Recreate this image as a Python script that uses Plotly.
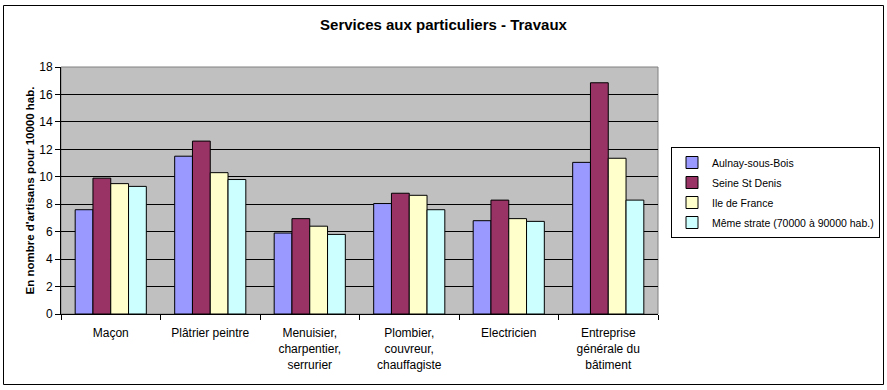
import plotly.graph_objects as go

categories = ["Maçon", "Plâtrier peintre", "Menuisier,<br>charpentier,<br>serrurier",
              "Plombier,<br>couvreur,<br>chauffagiste", "Electricien",
              "Entreprise<br>générale du<br>bâtiment"]
series_names = ["Aulnay-sous-Bois", "Seine St Denis", "Ile de France",
                "Même strate (70000 à 90000 hab.)"]
aulnay = [7.6, 11.5, 5.9, 8.05, 6.8, 11.05]
seine = [9.9, 12.6, 6.95, 8.8, 8.3, 16.85]
idf = [9.5, 10.3, 6.4, 8.65, 6.95, 11.35]
strate = [9.3, 9.8, 5.8, 7.6, 6.75, 8.3]
colors = ["#9999FF", "#993366", "#FFFFCC", "#CCFFFF"]
y_ticks = [0, 2, 4, 6, 8, 10, 12, 14, 16, 18]

W, H = 887, 390
L, R, T, B = 61, 229, 67, 76
pw, ph = W - L - R, H - T - B

def px(x):
    return (x - L) / pw

def py(y):
    return (H - B - y) / ph

font = "Liberation Sans, Arial, sans-serif"
fig = go.Figure()
for i, (name, vals) in enumerate(zip(series_names, [aulnay, seine, idf, strate])):
    fig.add_trace(go.Bar(
        x=categories, y=vals, name=name, legendgroup=f"g{i}",
        marker=dict(color=colors[i], line=dict(color="black", width=1)),
    ))

fig.update_layout(
    width=W, height=H,
    margin=dict(l=L, r=R, t=T, b=B, autoexpand=False),
    paper_bgcolor="white", plot_bgcolor="#C0C0C0",
    barmode="group", bargap=0.285, bargroupgap=0,
    font=dict(family=font, size=11, color="black"),
    title=dict(text="<b>Services aux particuliers - Travaux</b>", x=0.5, xanchor="center",
               xref="container", y=1 - 25 / H, yanchor="middle",
               font=dict(size=15, family=font)),
    legend=dict(x=px(671), y=py(147), xanchor="left", yanchor="top",
                bordercolor="black", borderwidth=1, bgcolor="white",
                tracegroupgap=1, font=dict(size=10.5, family=font),
                itemwidth=30),
    xaxis=dict(showline=True, linecolor="black", linewidth=1, automargin=False,
               ticks="outside", ticklen=5, tickcolor="black", tickson="boundaries",
               showgrid=False, tickfont=dict(size=12), ticklabelstandoff=8),
    yaxis=dict(range=[0, 18], tickvals=y_ticks, showline=True, linecolor="black",
               linewidth=1, ticks="outside", ticklen=5, tickcolor="black",
               gridcolor="black", gridwidth=1, zeroline=False, automargin=False,
               title=dict(text="<b>En nombre d'artisans pour 10000 hab.</b>",
                          font=dict(size=11.5), standoff=2),
               tickfont=dict(size=12)),
    shapes=[
        dict(type="rect", xref="paper", yref="paper", x0=0, x1=1, y0=0, y1=1,
             line=dict(color="#808080", width=1), layer="below"),
        dict(type="rect", xref="paper", yref="paper",
             x0=px(3.5), x1=px(883.5), y0=py(384.5), y1=py(5.5),
             line=dict(color="black", width=1)),
    ],
)

fig.write_html("out.html", config={"displayModeBar": False},
               post_script="document.body.style.margin='0';document.body.style.overflow='hidden';")
